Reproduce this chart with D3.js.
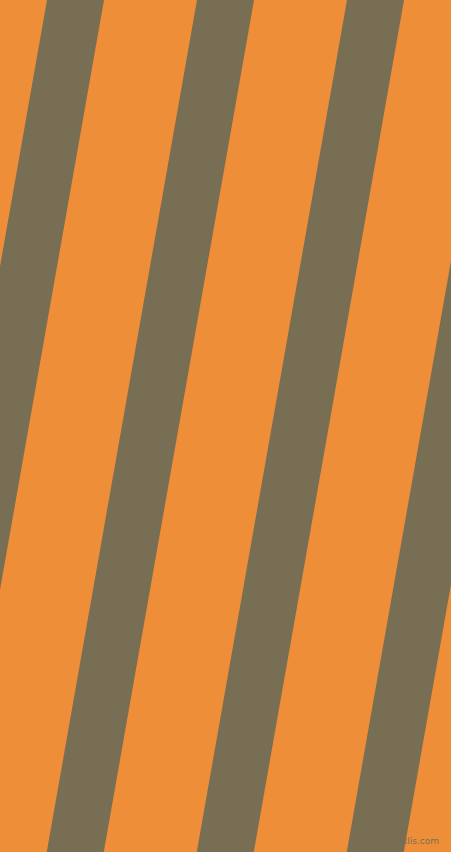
<!DOCTYPE html>
<html>
<head>
<meta charset="utf-8">
<script src="https://cdn.jsdelivr.net/npm/d3@7"></script>
<style>
  html, body { margin: 0; padding: 0; background: #ef8e38; }
  svg { display: block; }
</style>
</head>
<body>
<div id="chart"></div>
<script>
// Stripe data
var stripeIds = [-1, 0, 1, 2, 3, 4];
var stripeColors = ["#776e53"];
var bgColor = "#ef8e38";
var credit = "www.pixlis.com";

var width = 451;
var height = 852;

// Stripe angle: 80 degrees, so they lean 10 degrees off vertical
var lean = Math.tan(10 * Math.PI / 180);

// Top edge position for each stripe
var xScale = d3.scaleLinear()
    .domain([0, 1])
    .range([47, 197]);
var yScale = d3.scaleLinear()
    .domain([0, 1])
    .range([0, height]);

var bandWidth = xScale(1) - xScale(0);
var stripeWidth = bandWidth * 0.38;

var svg = d3.select("#chart")
    .append("svg")
    .attr("width", width)
    .attr("height", height);

svg.append("rect")
    .attr("width", width)
    .attr("height", height)
    .attr("fill", bgColor);

// Build each stripe as a parallelogram
function stripePoints(id) {
    var x0 = xScale(id);
    var shift = yScale(1) * lean;
    return [
        [x0, yScale(0)],
        [x0 + stripeWidth, yScale(0)],
        [x0 + stripeWidth - shift, yScale(1)],
        [x0 - shift, yScale(1)]
    ];
}

var line = d3.line();

svg.selectAll("path.stripe")
    .data(stripeIds)
    .enter()
    .append("path")
    .attr("class", "stripe")
    .attr("fill", stripeColors[0])
    .attr("d", d => line(stripePoints(d)) + "Z");

// Little credit text in the corner
svg.append("text")
    .attr("x", width - 12)
    .attr("y", height - 8)
    .attr("text-anchor", "end")
    .attr("font-family", "DejaVu Sans")
    .attr("font-size", 9)
    .attr("fill", "#776e53")
    .text(credit);
</script>
</body>
</html>
